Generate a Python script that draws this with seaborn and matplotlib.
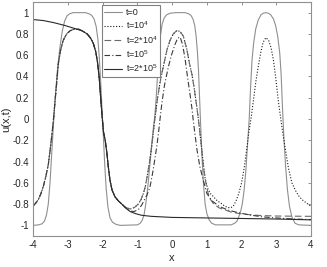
import matplotlib
matplotlib.use("Agg")
import matplotlib.pyplot as plt
import seaborn as sns
import pandas as pd

# ---------------- data ----------------
x_t0 = [-4.0, -3.85, -3.75, -3.68, -3.62, -3.57, -3.52, -3.47, -3.42, -3.37, -3.31, -3.24, -3.17, -3.1, -3.03,
        -2.95, -2.85, -2.5, -2.4, -2.32, -2.25, -2.19, -2.14, -2.1, -2.06, -2.02, -1.98, -1.94, -1.9, -1.85,
        -1.79, -1.72, -1.62, -1.5, -1.0, -0.92, -0.86, -0.81, -0.77, -0.73, -0.69, -0.64, -0.59, -0.54, -0.5,
        -0.46, -0.42, -0.38, -0.34, -0.29, -0.23, -0.16, -0.05, 0.1, 0.37, 0.47, 0.54, 0.6, 0.65, 0.69, 0.73,
        0.76, 0.79, 0.82, 0.86, 0.9, 0.95, 1.0, 1.07, 1.14, 1.25, 1.7, 1.8, 1.87, 1.93, 1.98, 2.02, 2.07, 2.12,
        2.17, 2.22, 2.26, 2.3, 2.35, 2.41, 2.48, 2.56, 2.63, 2.7, 2.77, 2.84, 2.92, 2.98, 3.04, 3.1, 3.14, 3.18,
        3.22, 3.27, 3.32, 3.38, 3.45, 3.54, 3.65, 4.0]
y_t0 = [-1.0, -0.995, -0.985, -0.96, -0.9, -0.8, -0.6, -0.32, -0.05, 0.2, 0.45, 0.66, 0.82, 0.92, 0.97,
        0.99, 1.0, 1.0, 0.99, 0.975, 0.94, 0.87, 0.75, 0.58, 0.35, 0.08, -0.18, -0.45, -0.66, -0.83,
        -0.93, -0.97, -0.99, -1.0, -0.995, -0.98, -0.95, -0.9, -0.82, -0.72, -0.6, -0.42, -0.24, -0.08, 0.03,
        0.2, 0.42, 0.62, 0.78, 0.89, 0.95, 0.98, 0.995, 1.0, 1.0, 0.99, 0.975, 0.94, 0.88, 0.78, 0.62,
        0.45, 0.2, -0.05, -0.35, -0.6, -0.8, -0.89, -0.95, -0.98, -0.995, -0.995, -0.98, -0.96, -0.91, -0.86, -0.8, -0.68, -0.5,
        -0.25, 0.0, 0.3, 0.55, 0.72, 0.85, 0.93, 0.98, 0.995, 1.0, 0.995, 0.98, 0.94, 0.88, 0.78, 0.62, 0.42, 0.1,
        -0.18, -0.45, -0.66, -0.82, -0.92, -0.98, -0.995, -1.0]

# shared left part of the t=1e4, 2e4, 1e5 curves (until they leave the t=2e5 curve)
x_left = [-4.0, -3.93, -3.86, -3.78, -3.71, -3.64, -3.57, -3.52, -3.47, -3.42, -3.38, -3.33, -3.28, -3.22,
          -3.14, -3.04, -2.94, -2.82, -2.7, -2.6, -2.45, -2.35, -2.27, -2.2, -2.15, -2.1, -2.06, -2.02, -1.98,
          -1.93, -1.88, -1.84, -1.79, -1.73, -1.65, -1.55, -1.45, -1.33]
y_left = [-0.815, -0.79, -0.76, -0.7, -0.63, -0.54, -0.43, -0.3, -0.16, 0.0, 0.15, 0.33, 0.52, 0.64,
          0.74, 0.8, 0.83, 0.845, 0.845, 0.83, 0.8, 0.76, 0.71, 0.63, 0.53, 0.38, 0.2, 0.03, -0.12,
          -0.2, -0.32, -0.45, -0.58, -0.67, -0.73, -0.77, -0.8, -0.835]

x_t1e4 = x_left + [-1.2, -1.08, -0.98, -0.9, -0.83, -0.77, -0.71, -0.65, -0.59, -0.5, -0.42, -0.33, -0.25,
                   -0.15, -0.06, 0.03, 0.13, 0.22, 0.32, 0.42, 0.5, 0.57, 0.63, 0.69, 0.74, 0.78, 0.84, 0.9,
                   0.95, 1.02, 1.1, 1.19, 1.3, 1.4, 1.48, 1.58, 1.68, 1.76, 1.84, 1.92, 2.0, 2.08, 2.15, 2.21,
                   2.27, 2.34, 2.41, 2.48, 2.55, 2.62, 2.7, 2.78, 2.85, 2.92, 2.99, 3.06, 3.13, 3.2, 3.26,
                   3.35, 3.45, 3.55, 3.64, 3.75, 3.87, 4.0]
y_t1e4 = y_left + [-0.845, -0.83, -0.8, -0.76, -0.7, -0.63, -0.52, -0.4, -0.26, 0.0, 0.2, 0.38, 0.5,
                   0.65, 0.74, 0.8, 0.83, 0.825, 0.78, 0.66, 0.52, 0.42, 0.3, 0.16, 0.04, -0.07, -0.25, -0.42,
                   -0.56, -0.65, -0.7, -0.73, -0.77, -0.79, -0.81, -0.83, -0.835, -0.82, -0.77, -0.7, -0.6, -0.45, -0.28, -0.12,
                   0.0, 0.17, 0.35, 0.49, 0.62, 0.72, 0.765, 0.74, 0.67, 0.55, 0.37, 0.17, 0.0, -0.16, -0.28,
                   -0.46, -0.6, -0.67, -0.72, -0.76, -0.79, -0.82]

x_t2e4 = x_left + [-1.2, -1.08, -0.98, -0.9, -0.83, -0.77, -0.71, -0.65, -0.59, -0.5, -0.42, -0.33, -0.25,
                   -0.15, -0.06, 0.03, 0.13, 0.22, 0.32, 0.42, 0.5, 0.57, 0.63, 0.69, 0.74, 0.78, 0.84, 0.9,
                   0.97, 1.03, 1.09, 1.2, 1.35, 1.48, 1.7, 1.96, 2.25, 2.53, 3.0, 4.0]
y_t2e4 = y_left + [-0.845, -0.83, -0.8, -0.76, -0.7, -0.63, -0.52, -0.4, -0.26, 0.0, 0.2, 0.38, 0.5,
                   0.65, 0.74, 0.8, 0.83, 0.825, 0.78, 0.66, 0.52, 0.42, 0.3, 0.16, 0.04, -0.07, -0.25, -0.45,
                   -0.6, -0.69, -0.75, -0.8, -0.835, -0.85, -0.875, -0.89, -0.9, -0.907, -0.912, -0.915]

x_t1e5 = x_left + [-1.21, -1.1, -0.97, -0.88, -0.8, -0.72, -0.64, -0.57, -0.5, -0.44, -0.39, -0.35, -0.3,
                   -0.22, -0.11, -0.02, 0.08, 0.16, 0.23, 0.3, 0.37, 0.44, 0.52, 0.57, 0.61, 0.66, 0.72, 0.8,
                   0.9, 1.0, 1.15, 1.35, 1.6, 1.9, 2.2, 2.6, 3.0, 3.5, 4.0]
y_t1e5 = y_left + [-0.865, -0.87, -0.85, -0.81, -0.76, -0.71, -0.64, -0.52, -0.38, -0.25, -0.12, 0.0, 0.14,
                   0.32, 0.49, 0.6, 0.7, 0.76, 0.77, 0.7, 0.57, 0.4, 0.22, 0.1, -0.02, -0.15, -0.3, -0.45,
                   -0.58, -0.7, -0.77, -0.82, -0.855, -0.88, -0.9, -0.92, -0.93, -0.94, -0.945]

x_t2e5 = [-4.0, -3.7, -3.4, -3.1, -2.8, -2.6, -2.45, -2.35, -2.27, -2.2, -2.15, -2.1, -2.06, -2.02, -1.98,
          -1.93, -1.88, -1.84, -1.79, -1.73, -1.65, -1.55, -1.45, -1.33, -1.21, -1.05, -0.88, -0.6, 0.0,
          1.0, 2.0, 3.0, 4.0]
y_t2e5 = [0.935, 0.925, 0.905, 0.88, 0.85, 0.83, 0.8, 0.76, 0.71, 0.63, 0.53, 0.38, 0.2, 0.03, -0.12,
          -0.2, -0.32, -0.45, -0.58, -0.67, -0.73, -0.77, -0.8, -0.84, -0.87, -0.89, -0.905, -0.915, -0.925,
          -0.93, -0.935, -0.94, -0.948]

labels = ["t=0", "t=10$^4$", "t=2*10$^4$", "t=10$^5$", "t=2*10$^5$"]
x_ticks = [-4, -3, -2, -1, 0, 1, 2, 3, 4]
y_ticks = [-1, -0.8, -0.6, -0.4, -0.2, 0, 0.2, 0.4, 0.6, 0.8, 1]
y_tick_labels = ["-1", "-0.8", "-0.6", "-0.4", "-0.2", "0", "0.2", "0.4", "0.6", "0.8", "1"]

# ---------------- styling ----------------
sns.set_theme(style="white")
plt.rcParams["font.family"] = ["Liberation Sans", "DejaVu Sans"]
plt.rcParams["mathtext.fontset"] = "custom"
plt.rcParams["mathtext.rm"] = "Liberation Sans"
plt.rcParams["mathtext.default"] = "regular"

fig = plt.figure(figsize=(3.27, 2.67), dpi=100)
ax = fig.add_axes([0.102, 0.116, 0.849, 0.8765])

series = [
    (x_t0, y_t0, labels[0], "#8f8f8f", "-"),
    (x_t1e4, y_t1e4, labels[1], "#1a1a1a", (0, (1, 1.6))),
    (x_t2e4, y_t2e4, labels[2], "#6a6a6a", (0, (6, 3))),
    (x_t1e5, y_t1e5, labels[3], "#3a3a3a", (0, (5, 2, 1, 2))),
    (x_t2e5, y_t2e5, labels[4], "#2a2a2a", "-"),
]
for xs, ys, lab, col, ls in series:
    df = pd.DataFrame({"x": xs, "u": ys})
    sns.lineplot(data=df, x="x", y="u", ax=ax, color=col, linestyle=ls,
                 linewidth=0.8, label=lab, sort=False, estimator=None)

ax.set_xlim(-4, 4)
ax.set_ylim(-1.1, 1.1)
ax.set_xticks(x_ticks)
ax.set_xticklabels([str(v) for v in x_ticks])
ax.set_yticks(y_ticks)
ax.set_yticklabels(y_tick_labels)
ax.tick_params(direction="in", top=True, right=True, length=2.5, width=0.6,
               color="#808080", labelsize=7, labelcolor="#262626", pad=3)
for sp in ax.spines.values():
    sp.set_color("#909090")
    sp.set_linewidth(0.8)
ax.set_xlabel("x", fontsize=8, color="#262626", labelpad=2)
ax.set_ylabel("u(x,t)", fontsize=8, color="#262626", labelpad=1)

leg = ax.legend(loc="upper left", bbox_to_anchor=(101.7 / 327, 1 - 5 / 267),
                bbox_transform=fig.transFigure, borderaxespad=0, fontsize=6.5,
                frameon=True, fancybox=False, framealpha=1, edgecolor="#808080",
                handlelength=2.0, handletextpad=0.35, borderpad=0.3, labelspacing=0.3)
leg.get_frame().set_linewidth(0.8)

fig.savefig("out.png", dpi=100)
